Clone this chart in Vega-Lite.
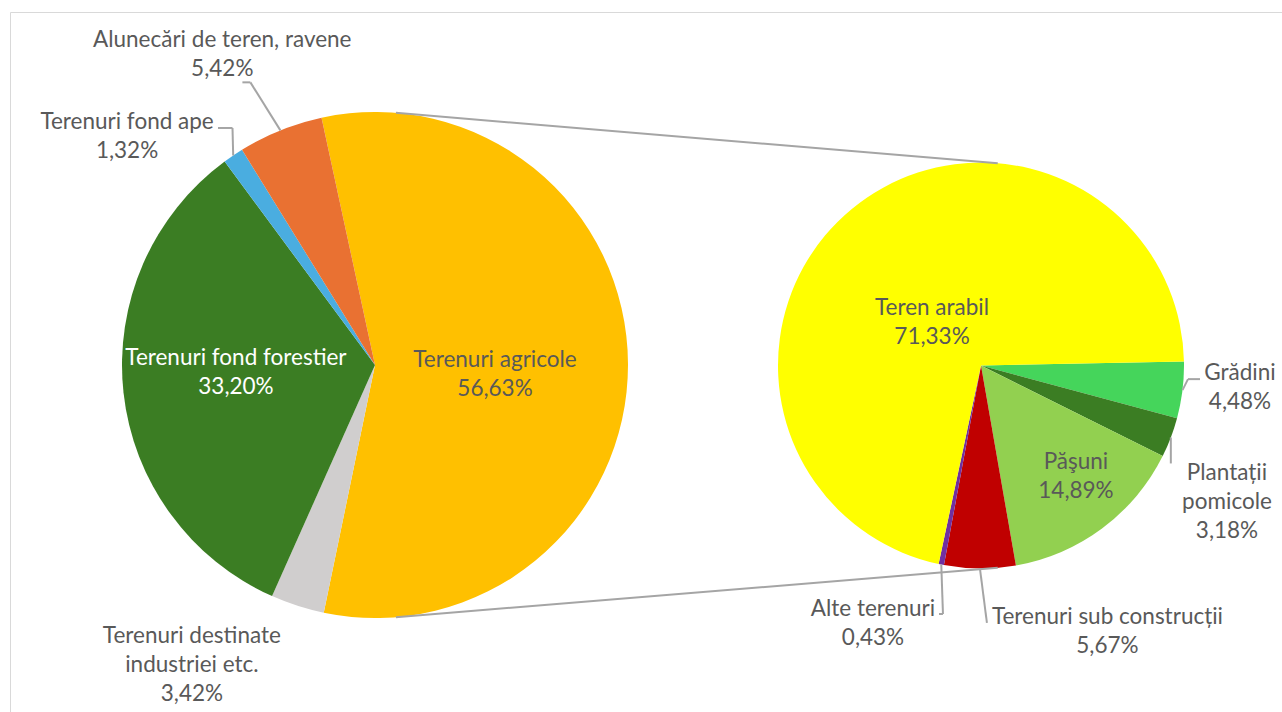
{
  "$schema": "https://vega.github.io/schema/vega-lite/v6.json",
  "width": 1272,
  "height": 700,
  "autosize": {"type": "none"},
  "padding": {"left": 10, "top": 12, "right": 0, "bottom": 0},
  "background": "white",
  "view": {"stroke": "#d9d9d9", "strokeWidth": 1},
  "config": {"view": {"stroke": "#d9d9d9", "strokeWidth": 1}},
  "params": [
    {"name": "cx1", "value": 365},
    {"name": "cy1", "value": 353},
    {"name": "r1", "value": 253},
    {"name": "cx2", "value": 971},
    {"name": "cy2", "value": 353.5},
    {"name": "r2", "value": 203},
    {"name": "rot1", "value": -0.2129},
    {"name": "rot2", "value": 1.5516},
    {"name": "phi", "expr": "acos((r1 - r2) / (cx2 - cx1))"},
    {"name": "lab", "value": {
      "Terenuri agricole": [-6.5, 9.6],
      "Terenuri destinate industriei etc.": [-78, -26.6],
      "Terenuri fond forestier": [-13.3, -5.9],
      "Terenuri fond ape": [-55.7, 56],
      "Alunecări de teren, ravene": [-24.5, 8],
      "Grădini": [-12, -11.6],
      "Plantații pomicole": [-9.3, 39.8],
      "Păşuni": [34.3, 30.1],
      "Terenuri sub construcții": [127.9, -6.5],
      "Alte terenuri": [-54.6, -10.2],
      "Teren arabil": [15.6, 34.8]
    }},
    {"name": "ld", "value": {
      "Alunecări de teren, ravene": [-30, -48, -8, 0],
      "Terenuri fond ape": [-0.7, -27.5, -14.5, 0],
      "Grădini": [5.5, -11, 12, 0],
      "Plantații pomicole": [0, 26, 0, 0],
      "Alte terenuri": [1.7, 49.4, -4, 0],
      "Terenuri sub construcții": [7, 54.5, 0, 0]
    }}
  ],
  "data": {"values": [
    {"pie": "main", "cat": "Terenuri agricole", "value": 56.63},
    {"pie": "main", "cat": "Terenuri destinate industriei etc.", "value": 3.42},
    {"pie": "main", "cat": "Terenuri fond forestier", "value": 33.20},
    {"pie": "main", "cat": "Terenuri fond ape", "value": 1.32},
    {"pie": "main", "cat": "Alunecări de teren, ravene", "value": 5.42},
    {"pie": "sub", "cat": "Grădini", "value": 4.48},
    {"pie": "sub", "cat": "Plantații pomicole", "value": 3.18},
    {"pie": "sub", "cat": "Păşuni", "value": 14.89},
    {"pie": "sub", "cat": "Terenuri sub construcții", "value": 5.67},
    {"pie": "sub", "cat": "Alte terenuri", "value": 0.43},
    {"pie": "sub", "cat": "Teren arabil", "value": 71.33}
  ]},
  "transform": [
    {"window": [{"op": "row_number", "as": "ord"}, {"op": "sum", "field": "value", "as": "cum"}], "groupby": ["pie"], "frame": [null, 0]},
    {"joinaggregate": [{"op": "sum", "field": "value", "as": "tot"}], "groupby": ["pie"]},
    {"calculate": "datum.pie == 'main' ? rot1 : rot2", "as": "rot"},
    {"calculate": "datum.rot + 2 * PI * datum.cum / datum.tot", "as": "a1"},
    {"calculate": "datum.rot + 2 * PI * (datum.cum - datum.value) / datum.tot", "as": "a0"},
    {"calculate": "(datum.a0 + datum.a1) / 2", "as": "mid"},
    {"calculate": "datum.pie == 'main' ? cx1 : cx2", "as": "cx"},
    {"calculate": "datum.pie == 'main' ? cy1 : cy2", "as": "cy"},
    {"calculate": "datum.pie == 'main' ? r1 : r2", "as": "R"},
    {"calculate": "replace(replace(datum.cat, 'destinate ', 'destinate\\n'), 'Plantații ', 'Plantații\\n') + '\\n' + replace(format(datum.value, '.2f'), '.', ',') + '%'", "as": "label"},
    {"calculate": "length(split(datum.label, '\\n'))", "as": "nl"}
  ],
  "layer": [
    {
      "mark": {"type": "arc", "x": {"expr": "datum.cx"}, "y": {"expr": "datum.cy"}, "radius": {"expr": "datum.R"}},
      "encoding": {
        "theta": {"field": "a0", "type": "quantitative", "scale": null, "stack": null},
        "theta2": {"field": "a1"},
        "color": {
          "field": "cat", "type": "nominal", "legend": null,
          "scale": {
            "domain": ["Terenuri agricole", "Terenuri destinate industriei etc.", "Terenuri fond forestier", "Terenuri fond ape", "Alunecări de teren, ravene", "Grădini", "Plantații pomicole", "Păşuni", "Terenuri sub construcții", "Alte terenuri", "Teren arabil"],
            "range": ["#FFC000", "#D0CECE", "#3B7D23", "#4AADE0", "#E97132", "#45D55B", "#3B7D23", "#92D050", "#C00000", "#7030A0", "#FFFF00"]
          }
        }
      }
    },
    {
      "transform": [
        {"filter": "datum.cat == 'Terenuri agricole'"},
        {"fold": ["a0", "a1"], "as": ["edge", "ang"]},
        {"calculate": "datum.edge == 'a0' ? -1 : 1", "as": "sgn"},
        {"calculate": "cx1 + r1 * cos(phi)", "as": "px1"},
        {"calculate": "cy1 + datum.sgn * r1 * sin(phi)", "as": "py1"},
        {"calculate": "cx2 + r2 * cos(phi)", "as": "px2"},
        {"calculate": "cy2 + datum.sgn * r2 * sin(phi)", "as": "py2"}
      ],
      "mark": {"type": "rule", "color": "#a5a5a5", "strokeWidth": 2},
      "encoding": {
        "x": {"field": "px1", "type": "quantitative", "scale": null},
        "y": {"field": "py1", "type": "quantitative", "scale": null},
        "x2": {"field": "px2"},
        "y2": {"field": "py2"}
      }
    },
    {
      "transform": [
        {"filter": "isValid(ld[datum.cat])"},
        {"calculate": "datum.cx + datum.R * sin(datum.mid)", "as": "ex"},
        {"calculate": "datum.cy - datum.R * cos(datum.mid)", "as": "ey"},
        {"calculate": "datum.ex + ld[datum.cat][0]", "as": "bx"},
        {"calculate": "datum.ey + ld[datum.cat][1]", "as": "by"}
      ],
      "mark": {"type": "rule", "color": "#a5a5a5", "strokeWidth": 2},
      "encoding": {
        "x": {"field": "ex", "type": "quantitative", "scale": null},
        "y": {"field": "ey", "type": "quantitative", "scale": null},
        "x2": {"field": "bx"},
        "y2": {"field": "by"}
      }
    },
    {
      "transform": [
        {"filter": "isValid(ld[datum.cat]) && (ld[datum.cat][2] != 0 || ld[datum.cat][3] != 0)"},
        {"calculate": "datum.cx + datum.R * sin(datum.mid) + ld[datum.cat][0]", "as": "bx"},
        {"calculate": "datum.cy - datum.R * cos(datum.mid) + ld[datum.cat][1]", "as": "by"},
        {"calculate": "datum.bx + ld[datum.cat][2]", "as": "fx"},
        {"calculate": "datum.by + ld[datum.cat][3]", "as": "fy"}
      ],
      "mark": {"type": "rule", "color": "#a5a5a5", "strokeWidth": 2},
      "encoding": {
        "x": {"field": "bx", "type": "quantitative", "scale": null},
        "y": {"field": "by", "type": "quantitative", "scale": null},
        "x2": {"field": "fx"},
        "y2": {"field": "fy"}
      }
    },
    {
      "mark": {
        "type": "text", "font": "Lato", "fontSize": 22.5, "lineHeight": 29, "lineBreak": "\n",
        "align": "center", "baseline": "middle",
        "x": {"expr": "datum.cx"}, "y": {"expr": "datum.cy"},
        "radius": {"expr": "datum.value < 6 ? datum.R + (datum.pie == 'main' ? 90 : 70) : datum.R * 0.5"},
        "dx": {"expr": "lab[datum.cat][0]"},
        "dy": {"expr": "lab[datum.cat][1] - (datum.nl - 1) * 14.5"}
      },
      "encoding": {
        "theta": {"field": "mid", "type": "quantitative", "scale": null, "stack": null},
        "text": {"field": "label"},
        "color": {"condition": {"test": "datum.cat == 'Terenuri fond forestier'", "value": "#ffffff"}, "value": "#595959"}
      }
    }
  ]
}
